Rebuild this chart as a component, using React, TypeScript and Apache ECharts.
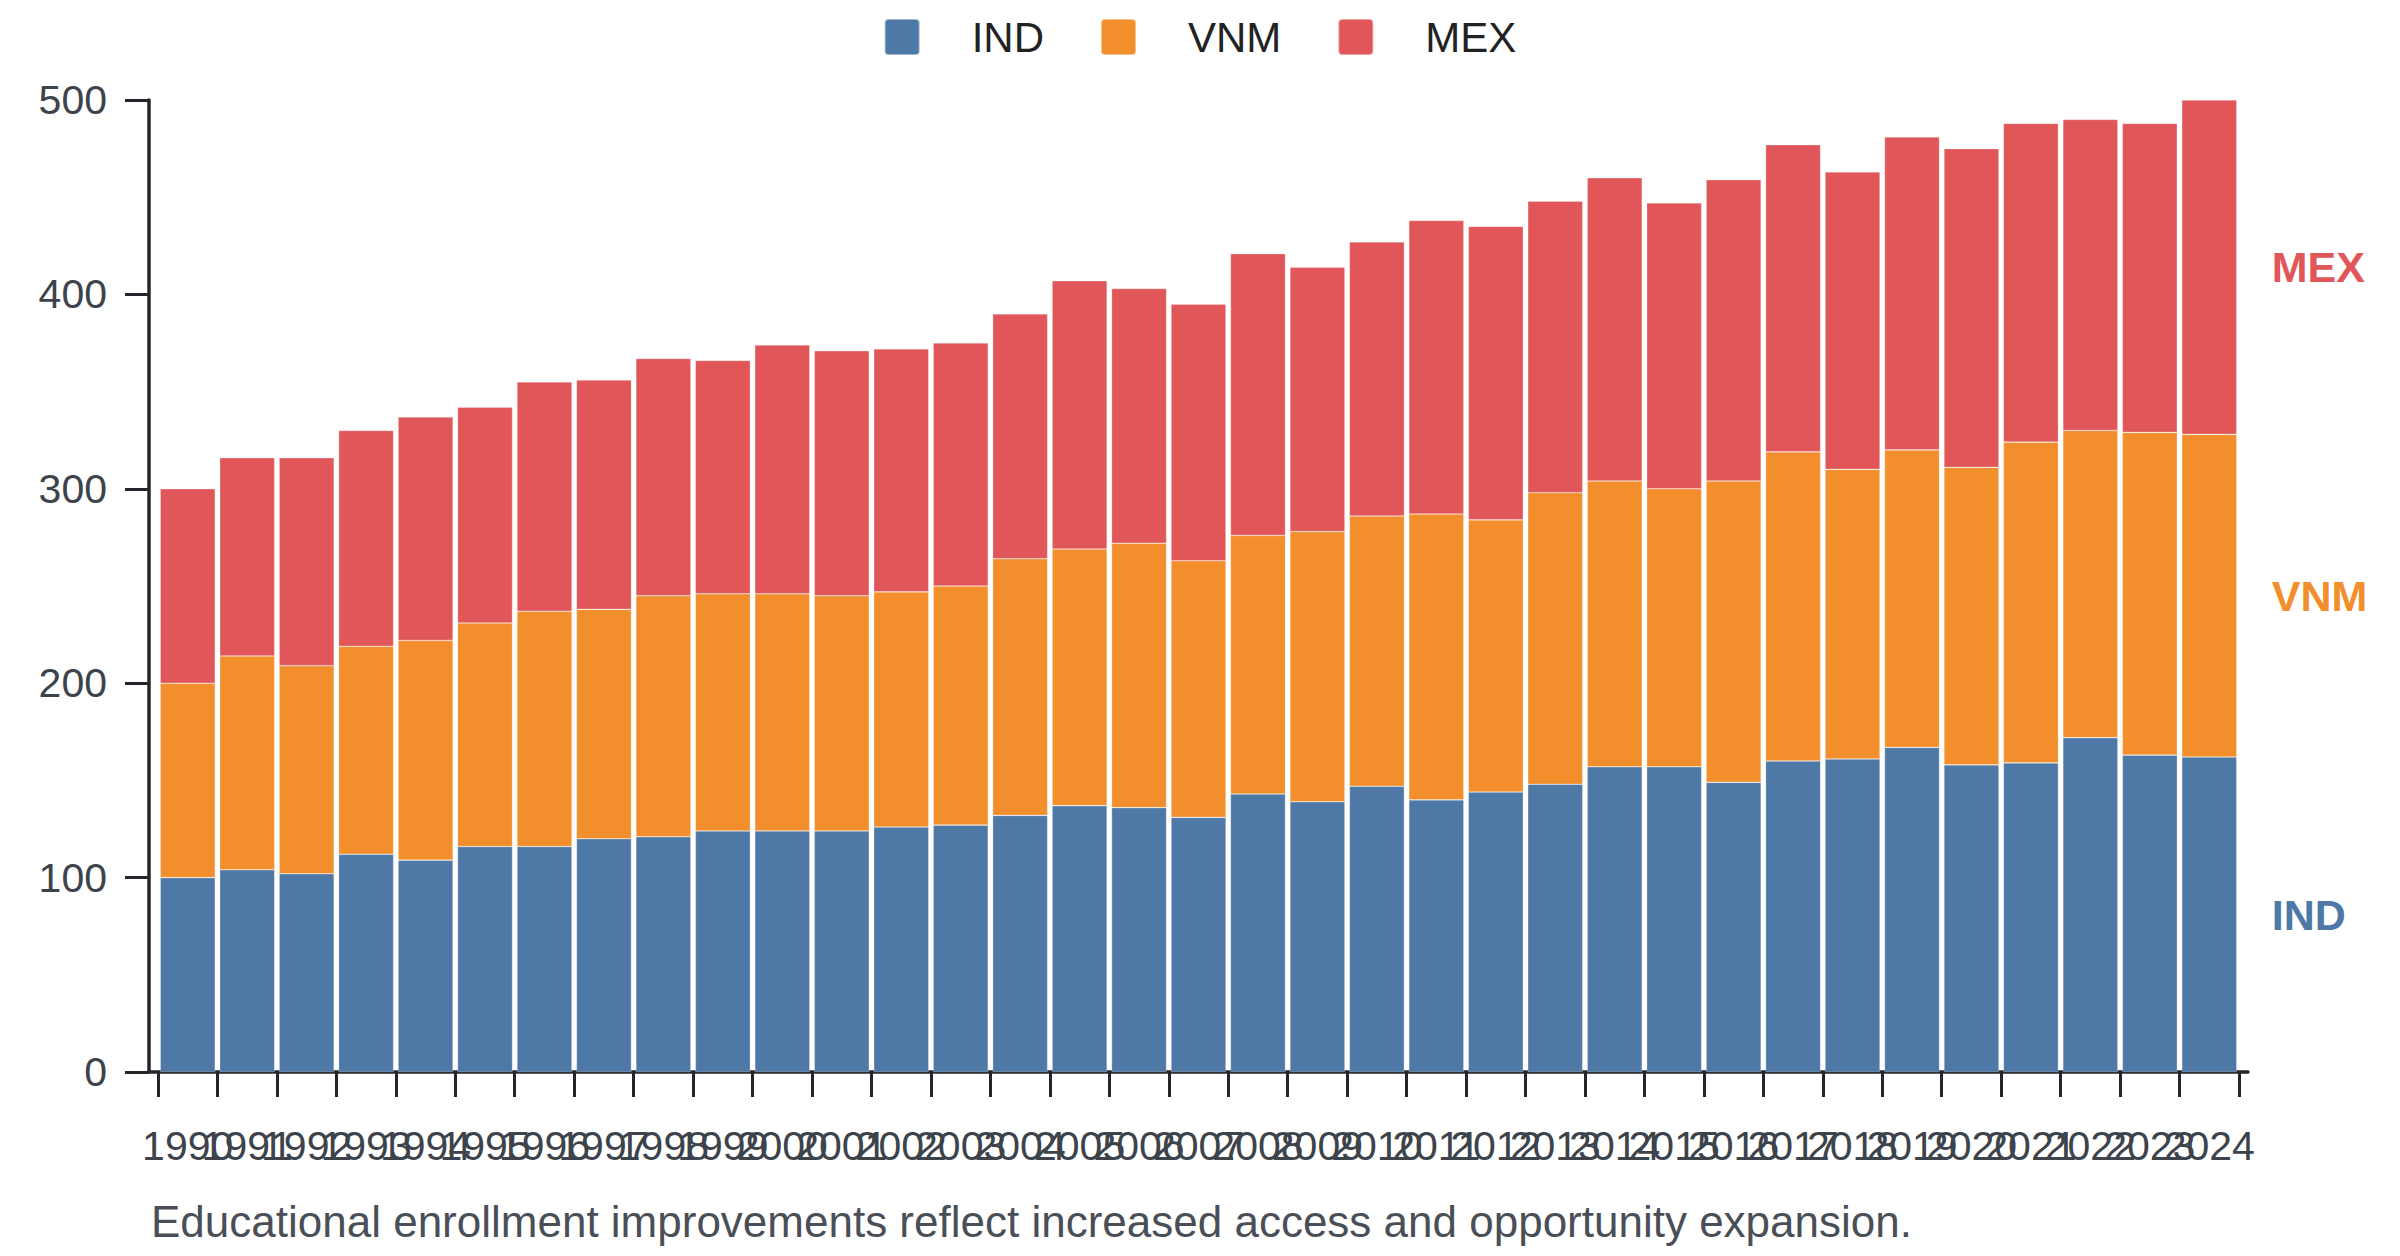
import React, { useEffect, useRef } from "react";
import * as echarts from "echarts";

const years = [
  "1990","1991","1992","1993","1994","1995","1996","1997","1998","1999",
  "2000","2001","2002","2003","2004","2005","2006","2007","2008","2009",
  "2010","2011","2012","2013","2014","2015","2016","2017","2018","2019",
  "2020","2021","2022","2023","2024",
];

const indValues = [
  100, 104, 102, 112, 109, 116, 116, 120, 121, 124,
  124, 124, 126, 127, 132, 137, 136, 131, 143, 139,
  147, 140, 144, 148, 157, 157, 149, 160, 161, 167,
  158, 159, 172, 163, 162,
];

const vnmValues = [
  100, 110, 107, 107, 113, 115, 121, 118, 124, 122,
  122, 121, 121, 123, 132, 132, 136, 132, 133, 139,
  139, 147, 140, 150, 147, 143, 155, 159, 149, 153,
  153, 165, 158, 166, 166,
];

const mexValues = [
  100, 102, 107, 111, 115, 111, 118, 118, 122, 120,
  128, 126, 125, 125, 126, 138, 131, 132, 145, 136,
  141, 151, 151, 150, 156, 147, 155, 158, 153, 161,
  164, 164, 160, 159, 172,
];

const seriesNames = ["IND", "VNM", "MEX"];
const seriesColors = ["#4e79a7", "#f28e2b", "#e15759"];
const yTicks = { min: 0, max: 500, interval: 100 };
const caption =
  "Educational enrollment improvements reflect increased access and opportunity expansion.";

const FONT = "'Liberation Sans', Arial, Helvetica, sans-serif";
const LEGEND_ICON =
  "path://M4,0 L31,0 Q35,0 35,4 L35,32 Q35,36 31,36 L4,36 Q0,36 0,32 L0,4 Q0,0 4,0 Z";

function buildSeries(name: string, values: number[], color: string) {
  const last = values.length - 1;
  return {
    name,
    type: "bar",
    stack: "total",
    barCategoryGap: "7.5%",
    itemStyle: { color, borderColor: "rgba(255,255,255,0.45)", borderWidth: 0.6 },
    emphasis: { disabled: true },
    data: values.map((v, i) =>
      i === last
        ? {
            value: v,
            label: {
              show: true,
              position: "right",
              distance: 35,
              formatter: name,
              color,
              fontSize: 43,
              fontWeight: "bold",
              fontFamily: FONT,
            },
          }
        : v
    ),
  };
}

export default function App() {
  const ref = useRef<HTMLDivElement>(null);

  useEffect(() => {
    document.body.style.margin = "0";
    if (!ref.current) return;
    const chart = echarts.init(ref.current, undefined, { renderer: "svg" });
    const axisColor = "#23272c";
    const labelColor = "#3d434b";
    chart.setOption({
      animation: false,
      backgroundColor: "#ffffff",
      textStyle: { fontFamily: FONT },
      title: {
        text: caption,
        left: 151,
        top: 1199,
        padding: 0,
        textStyle: {
          fontSize: 44,
          fontWeight: "normal",
          color: "#4a4f57",
          fontFamily: FONT,
        },
      },
      legend: {
        data: seriesNames,
        left: "center",
        top: 16,
        padding: 0,
        icon: LEGEND_ICON,
        itemWidth: 35,
        itemHeight: 36,
        itemGap: 56,
        textStyle: {
          fontSize: 42,
          color: "#222222",
          fontFamily: FONT,
          padding: [0, 0, 0, 47],
        },
      },
      grid: [
        { left: 158, right: 161, top: 100, bottom: 184 },
        { left: 149, right: 152, top: 100, bottom: 184 },
      ],
      xAxis: [
        {
          type: "category",
          gridIndex: 0,
          data: years,
          axisLine: { show: false },
          axisTick: {
            show: true,
            interval: 0,
            length: 25,
            lineStyle: { color: axisColor, width: 3 },
          },
          axisLabel: {
            interval: 0,
            fontSize: 41,
            color: labelColor,
            margin: 53,
            fontFamily: FONT,
          },
          splitLine: { show: false },
        },
        {
          type: "value",
          gridIndex: 1,
          min: 0,
          max: 1,
          axisLine: { show: true, lineStyle: { color: axisColor, width: 3.5 } },
          axisTick: { show: false },
          axisLabel: { show: false },
          splitLine: { show: false },
        },
      ],
      yAxis: [
        {
          type: "value",
          gridIndex: 0,
          min: yTicks.min,
          max: yTicks.max,
          interval: yTicks.interval,
          offset: 9,
          axisLine: { show: true, lineStyle: { color: axisColor, width: 3.5 } },
          axisTick: { show: true, length: 24, lineStyle: { color: axisColor, width: 3 } },
          axisLabel: { fontSize: 41, color: labelColor, margin: 42, fontFamily: FONT },
          splitLine: { show: false },
        },
        {
          type: "value",
          gridIndex: 1,
          min: 0,
          max: 1,
          show: false,
        },
      ],
      series: [
        buildSeries(seriesNames[0], indValues, seriesColors[0]),
        buildSeries(seriesNames[1], vnmValues, seriesColors[1]),
        buildSeries(seriesNames[2], mexValues, seriesColors[2]),
      ],
    });
    return () => chart.dispose();
  }, []);

  return <div ref={ref} style={{ width: 2400, height: 1256 }} />;
}
